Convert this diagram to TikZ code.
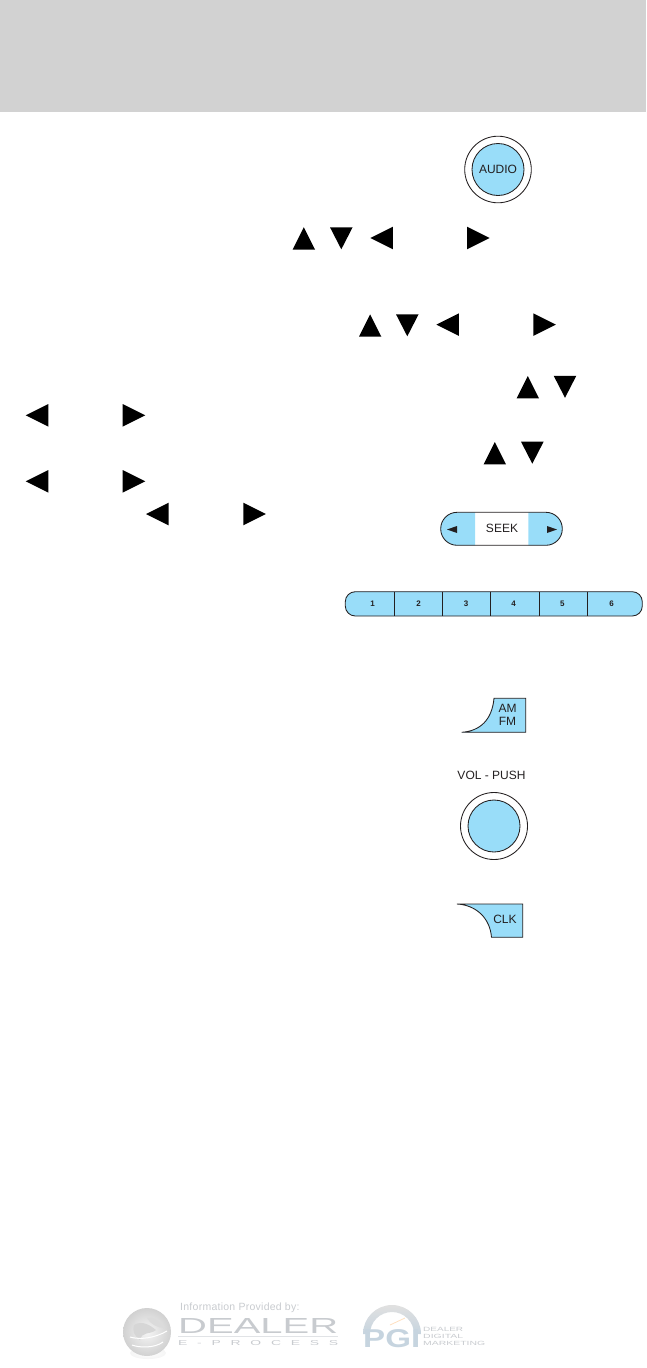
\documentclass[tikz,border=0pt]{standalone}
\usepackage{fontspec}
\usepackage{graphicx}
\setmainfont{Liberation Sans}
\definecolor{keyblue}{HTML}{99DDF9}
\definecolor{hdr}{HTML}{D2D2D2}
\definecolor{wm}{HTML}{CDD1D5}
\definecolor{wmtext}{HTML}{C8CBCF}
\definecolor{pgiblue}{HTML}{C6D4DF}
\definecolor{ink}{HTML}{231F20}
\newcommand{\ups}[2]{\fill (#1,#2+22.3) -- (#1+11.1,#2) -- (#1+22.3,#2+22.3) -- cycle;}
\newcommand{\dns}[2]{\fill (#1,#2) -- (#1+22.6,#2) -- (#1+11.3,#2+22) -- cycle;}
\newcommand{\lfs}[2]{\fill (#1+22.6,#2) -- (#1,#2+11.3) -- (#1+22.6,#2+22.6) -- cycle;}
\newcommand{\rts}[2]{\fill (#1,#2) -- (#1+22.6,#2+11.3) -- (#1,#2+22.6) -- cycle;}
\tikzset{
  keyline/.style={draw=ink,line width=0.85pt},
  keyfill/.style={keyline,fill=keyblue},
  ktext/.style={font=\fontsize{12}{12}\selectfont,text=ink,inner sep=0pt},
  ptext/.style={font=\fontsize{8}{8}\selectfont\bfseries,text=ink,inner sep=0pt},
  wmt/.style={text=wmtext,inner sep=0pt}
}
\begin{document}
\begin{tikzpicture}[x=1pt,y=-1pt]
\useasboundingbox (0,0) rectangle (646,1368);
\fill[hdr] (0,0) rectangle (646,112);
% AUDIO
\draw[keyline] (498,169.5) circle (33.3);
\draw[keyfill] (498,169.5) circle (26);
\node[ktext] (audio) at (498,169.5) {AUDIO};
% triangles
\ups{292.7}{227.2}\dns{330}{227.3}\lfs{370.3}{226.7}\rts{467}{226.7}
\ups{359}{314.3}\dns{396}{314.3}\lfs{436.3}{313.3}\rts{533.3}{313.3}
\ups{516.7}{376}\dns{553.7}{375.8}\lfs{25.7}{404}\rts{122.7}{404}
\ups{483.7}{442}\dns{521}{441.7}\lfs{25.7}{470}\rts{122.7}{470}
\lfs{146}{502.7}\rts{243.3}{502.7}
% SEEK
\fill[keyblue] (475,512.3) -- (457.2,512.3) .. controls (448,512.3) and (440.7,519.7) .. (440.7,528.8) .. controls (440.7,537.9) and (448,545.3) .. (457.2,545.3) -- (475,545.3) -- cycle;
\fill[keyblue] (528.3,512.3) -- (545.8,512.3) .. controls (555,512.3) and (562.3,519.7) .. (562.3,528.8) .. controls (562.3,537.9) and (555,545.3) .. (545.8,545.3) -- (528.3,545.3) -- cycle;
\draw[keyline,rounded corners=16.4pt] (440.7,512.3) rectangle (562.3,545.3);
\fill[ink] (457,526) -- (447,529.5) -- (457,533) -- cycle;
\fill[ink] (547,526) -- (557,529.5) -- (547,533) -- cycle;
\node[ktext] (seek) at (502,528.7) {SEEK};
% presets
\draw[keyfill,rounded corners=10pt] (345.3,591.7) rectangle (642.3,616);
\foreach \x in {394.3,442.3,490.3,539.3,587.3} \draw[keyline] (\x,591.7) -- (\x,616);
\node[ptext] (p1) at (372.7,604) {1};
\node[ptext] (p2) at (418.7,604) {2};
\node[ptext] (p3) at (466,604) {3};
\node[ptext] (p4) at (513.7,604) {4};
\node[ptext] (p5) at (562.3,604) {5};
\node[ptext] (p6) at (611.7,604) {6};
% AM FM
\draw[keyfill] (461.7,732.3) .. controls (480,731) and (492,720) .. (494,698.3) -- (525.7,698.3) -- (525.7,732.3) -- cycle;
\node[ktext] (am) at (507.5,708) {AM};
\node[ktext] (fm) at (507.5,721.5) {FM};
% VOL
\node[ktext] (vol) at (491.5,775) {VOL - PUSH};
\draw[keyline] (494,826) circle (33.5);
\draw[keyfill] (494,826) circle (26);
% CLK
\draw[keyfill] (457,904) -- (522.7,904) -- (522.7,937.3) -- (491.5,937.3) .. controls (490,918) and (476,905) .. (457,904) -- cycle;
\node[ktext] (clk) at (505,919) {CLK};
% watermark globe
\shade[inner color=white,outer color=black!4] (148,1353) ellipse (18 and 6);
\shade[inner color=black!4,outer color=black!18] (147,1332) circle (24);
\fill[black!16] (134,1325) .. controls (142,1320) and (150,1325) .. (156,1330) .. controls (150,1335) and (142,1331) .. (140,1340) .. controls (134,1336) and (132,1330) .. (134,1325) -- cycle;
\fill[black!14] (147,1318) .. controls (152,1316) and (160,1320) .. (164,1328) .. controls (158,1328) and (150,1324) .. (147,1318) -- cycle;
\draw[white,line width=1pt] (130,1337) .. controls (140,1340) and (155,1338) .. (167,1331);
\draw[white,line width=1pt] (132,1345) .. controls (140,1348) and (155,1348) .. (163,1342);
% watermark text
\node[wmt,anchor=west,font=\fontsize{10.5}{10.5}\selectfont] (info) at (180,1307.5) {\addfontfeature{LetterSpace=2.5}Information Provided by:};
\node[wmt,anchor=west] (dealer) at (178,1325.5) {\resizebox{160pt}{15pt}{DEALER}};
\fill[wm!60!white] (178,1335.5) rectangle (338,1336.5);
\node[wmt,anchor=west] (eproc) at (178,1343) {\resizebox{160pt}{5pt}{\addfontfeature{LetterSpace=70}E-PROCESS}};
% PGI logo
\shade[top color=black!12,bottom color=pgiblue] (363,1334) arc[start angle=180,end angle=360,radius=29] -- (414,1334) arc[start angle=360,end angle=180,radius=22] -- cycle;
\draw[orange!25,line width=0.8pt] (390,1325) -- (405,1318);
\node[inner sep=0pt,text=pgiblue,anchor=west] (pgi) at (363,1339) {\resizebox{57pt}{18pt}{\bfseries PGI}};
\node[wmt,anchor=west] (d1) at (423,1329.8) {\resizebox{40pt}{4.2pt}{DEALER}};
\node[wmt,anchor=west] (d2) at (423,1336.6) {\resizebox{40pt}{4.2pt}{DIGITAL}};
\node[wmt,anchor=west] (d3) at (423,1343.4) {\resizebox{62pt}{4.2pt}{MARKETING}};
\end{tikzpicture}
\end{document}
